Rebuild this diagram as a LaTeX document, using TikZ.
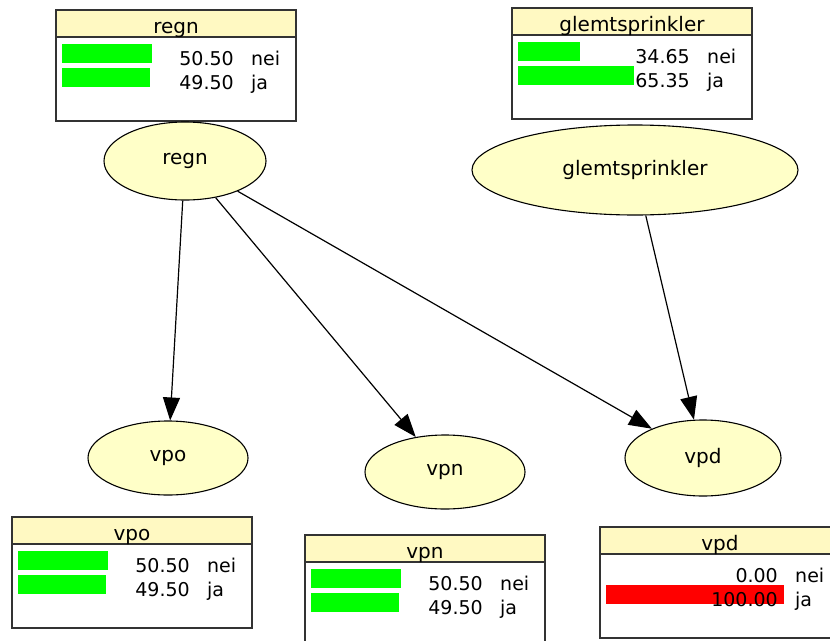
\documentclass[tikz,border=0pt]{standalone}
\usepackage{fontspec}
\setmainfont{DejaVu Sans}
\usetikzlibrary{
arrows.meta,
shapes.geometric
}
\definecolor{HuginYellow}{HTML}{FFFFC8}
\definecolor{HuginHead}{HTML}{FFF9C2}
\definecolor{HuginGreen}{HTML}{00FF00}
\definecolor{HuginRed}{HTML}{FF0000}
\definecolor{HuginGray}{HTML}{333333}

\tikzset{
chance/.style={ellipse, draw=black, line width=1.1pt, fill=HuginYellow, inner sep=0pt, font=\fontsize{20}{22}\selectfont},
edge/.style={line width=1.2pt, -{Triangle[length=23pt,width=17pt]}},
valtext/.style={inner sep=0pt, font=\fontsize{19}{20}\selectfont},
headtext/.style={inner sep=0pt, font=\fontsize{20}{22}\selectfont}
}

% monitor box: name, corner, title, nei, ja, bar colour
\newcommand{\monbox}[6]{%
\begin{scope}[shift={(#2)}]
\fill[HuginHead] (0,0) rectangle (240,27);
\ifdim #4pt>0pt \fill[#6] (6,34) rectangle ({6+1.78*#4},53);\fi
\ifdim #5pt>0pt \fill[#6] (6,58) rectangle ({6+1.78*#5},77);\fi
\draw[HuginGray, line width=1.6pt] (0,0) rectangle (240,111) (0,27) -- (240,27);
\node[headtext, anchor=base] (#1-title) at (120,23) {#3};
\node[valtext, anchor=base east] (#1-nei) at (178,55) {#4};
\node[valtext, anchor=base west] (#1-neilabel) at (195,55) {nei};
\node[valtext, anchor=base east] (#1-ja) at (178,79) {#5};
\node[valtext, anchor=base west] (#1-jalabel) at (195,79) {ja};
\end{scope}}

\begin{document}
\begin{tikzpicture}[x=1pt, y=-1pt]
\useasboundingbox (0,0) rectangle (830,640);
% monitor boxes
\monbox{regnbox}{56,10}{regn}{50.50}{49.50}{HuginGreen}
\monbox{glemtbox}{512,8}{glemtsprinkler}{34.65}{65.35}{HuginGreen}
\monbox{vpobox}{12,517}{vpo}{50.50}{49.50}{HuginGreen}
\monbox{vpnbox}{305,535}{vpn}{50.50}{49.50}{HuginGreen}
\monbox{vpdbox}{600,527}{vpd}{0.00}{100.00}{HuginRed}
% chance nodes
\node[chance, minimum width=162pt, minimum height=78pt] (regn) at (185,161) {regn};
\node[chance, minimum width=326pt, minimum height=90pt] (glemtsprinkler) at (635,170) {glemtsprinkler};
\node[chance, minimum width=160pt, minimum height=74pt] (vpo) at (168,458) {vpo};
\node[chance, minimum width=160pt, minimum height=74pt] (vpn) at (445,472) {vpn};
\node[chance, minimum width=156pt, minimum height=76pt] (vpd) at (703,458) {vpd};
% links
\draw[edge] (regn) -- (vpo);
\draw[edge] (regn) -- (vpn);
\draw[edge] (regn) -- (vpd);
\draw[edge] (glemtsprinkler) -- (vpd);
\end{tikzpicture}
\end{document}
